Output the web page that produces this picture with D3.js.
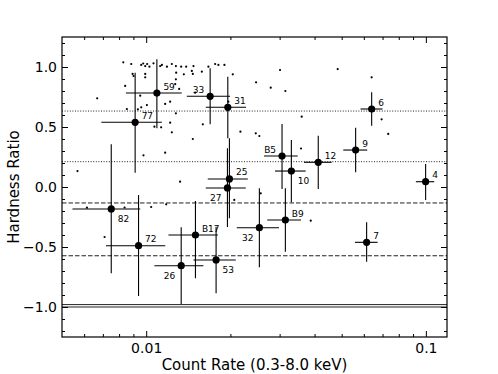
<!DOCTYPE html>
<html>
<head>
<meta charset="utf-8">
<script src="https://cdn.jsdelivr.net/npm/d3@7"></script>
<style>
  body { margin: 0; background: #fff; }
  svg { display: block; font-family: "DejaVu Sans", sans-serif; }
</style>
</head>
<body>
<div id="chart"></div>
<script>
// labelled sources: count rate (with 1-sigma range) and hardness ratio (with range)
var srcNames  = ['59', '77', '33', '31', '25', '27', '82', '72', '26', 'B17', '53', '32', 'B9', '7', '4', '6', '9', '12', 'B5', '10'];
var srcRate   = [0.01092, 0.00913, 0.01693, 0.01958, 0.01984, 0.01952, 0.0075, 0.00939, 0.01334, 0.0150, 0.01778, 0.02539, 0.03145, 0.0614, 0.0998, 0.0640, 0.05609, 0.04123, 0.0306, 0.03304];
var srcRateLo = [0.00846, 0.00691, 0.01397, 0.01633, 0.0166, 0.01633, 0.00545, 0.00718, 0.0107, 0.01201, 0.01476, 0.02108, 0.0271, 0.05576, 0.0921, 0.0584, 0.05066, 0.03666, 0.02638, 0.02888];
var srcRateHi = [0.0134, 0.01138, 0.01995, 0.02276, 0.02308, 0.0227, 0.00952, 0.0117, 0.01602, 0.01804, 0.02091, 0.02985, 0.03578, 0.06723, 0.1071, 0.0700, 0.06172, 0.04604, 0.03481, 0.03718];
var srcHR     = [0.783, 0.539, 0.756, 0.664, 0.067, -0.008, -0.183, -0.489, -0.656, -0.40, -0.608, -0.339, -0.275, -0.461, 0.044, 0.65, 0.308, 0.206, 0.258, 0.133];
var srcHRLo   = [0.49, 0.119, 0.5225, 0.406, -0.261, -0.333, -0.719, -0.908, -0.975, -0.761, -0.886, -0.669, -0.539, -0.6225, -0.108, 0.511, 0.1225, -0.017, -0.017, -0.1275];
var srcHRHi   = [1.064, 0.953, 0.989, 0.919, 0.406, 0.3225, 0.356, -0.067, -0.336, -0.117, -0.331, -0.011, -0.011, -0.294, 0.192, 0.789, 0.494, 0.4275, 0.525, 0.392];

// where each label sits around its point (u/l = up/low, l/r = left/right)
var srcLabelPos = ['ur', 'ur', 'ul', 'ur', 'ur', 'll', 'lr', 'ur', 'll', 'ur', 'lr', 'll', 'ur', 'ur', 'ur', 'ur', 'ur', 'ur', 'ul', 'lr'];

// unlabelled background sources
var bgRate = [0.00568, 0.00668, 0.00828, 0.00884, 0.0096, 0.00976, 0.00992, 0.01008, 0.01027, 0.01062, 0.01122, 0.01138, 0.01186, 0.01235, 0.01277, 0.01334, 0.0139, 0.01476, 0.01669, 0.01764, 0.01812, 0.01904,
  0.00894, 0.00901, 0.00992, 0.00992, 0.00841, 0.0128, 0.01363, 0.01456, 0.01468, 0.01581, 0.0204, 0.01277, 0.0127, 0.01312, 0.01496, 0.00952, 0.01218, 0.01169, 0.01006, 0.0096, 0.00853, 0.00934, 0.01277, 0.01967,
  0.0107, 0.01131, 0.01218, 0.01235, 0.01594, 0.02172, 0.01468, 0.00978, 0.01169, 0.02471, 0.0301, 0.02788, 0.03145, 0.04838, 0.064, 0.03598, 0.02465, 0.02539, 0.03578, 0.06947, 0.07335,
  0.00614, 0.00837, 0.01042, 0.01179, 0.0071, 0.01322, 0.02065, 0.02568, 0.03876];
var bgHR = [0.133, 0.739, 1.039, 1.025, 1.017, 1.029, 1.008, 1.025, 1.0025, 1.031, 1.008, 1.017, 1.0025, 1.025, 1.008, 1.0025, 1.0025, 1.008, 1.0025, 1.025, 1.017, 1.017,
  0.942, 0.925, 0.942, 0.914, 0.842, 0.9525, 0.939, 0.967, 0.942, 0.961, 0.939, 0.8975, 0.858, 0.817, 0.786, 0.761, 0.711, 0.692, 0.683, 0.664, 0.65, 0.6475, 0.614, 0.711,
  0.5025, 0.4975, 0.536, 0.456, 0.5225, 0.461, 0.40, 0.264, 0.286, 0.8725, 0.975, 0.8275, 0.80, 0.983, 0.914, 0.586, 0.4475, 0.425, 0.321, 0.564, 0.442,
  -0.1725, -0.171, -0.1667, -0.144, -0.4167, 0.044, -0.108, -0.0525, -0.281];

// reference levels
var dottedLevels = [0.633, 0.211];
var dashedLevels = [-0.133, -0.573];
var solidLevels = [-0.98, -1.0];

var xMajor = [0.01, 0.1];
var xMinor = [0.006, 0.007, 0.008, 0.009, 0.02, 0.03, 0.04, 0.05, 0.06, 0.07, 0.08, 0.09];
var yMajor = [-1.0, -0.5, 0.0, 0.5, 1.0];
var yMinor = d3.range(-12, 13).map(function(d) { return d / 10; });

var W = 498, H = 374,
    m = { left: 62, right: 51, top: 37, bottom: 37 },
    iw = W - m.left - m.right,
    ih = H - m.top - m.bottom;

var svg = d3.select('#chart').append('svg')
    .attr('width', W)
    .attr('height', H);

var g = svg.append('g').attr('transform', 'translate(' + m.left + ',' + m.top + ')');

var x = d3.scaleLog().domain([0.005, 0.119]).range([0, iw]),
    y = d3.scaleLinear().domain([-1.25, 1.25]).range([ih, 0]);

// horizontal reference lines
function hlines(levels, dash, cls) {
  g.selectAll('line.' + cls).data(levels).enter().append('line')
    .attr('class', cls)
    .attr('x1', 0).attr('x2', iw)
    .attr('y1', function(d) { return y(d); })
    .attr('y2', function(d) { return y(d); })
    .attr('stroke', '#222')
    .attr('stroke-width', 1)
    .attr('stroke-dasharray', dash);
}
hlines(dottedLevels, '1,1.6', 'dotted');
hlines(dashedLevels, '4.5,2', 'dashed');
hlines(solidLevels, null, 'solid');

// background dots
var bg = bgRate.map(function(r, i) { return { r: r, hr: bgHR[i] }; });
g.selectAll('circle.bg').data(bg).enter().append('circle')
  .attr('class', 'bg')
  .attr('cx', function(d) { return x(d.r); })
  .attr('cy', function(d) { return y(d.hr); })
  .attr('r', 1.1)
  .attr('fill', '#000');

// labelled sources with error bars
var src = srcNames.map(function(n, i) {
  return { name: n, r: srcRate[i], rLo: srcRateLo[i], rHi: srcRateHi[i],
           hr: srcHR[i], hrLo: srcHRLo[i], hrHi: srcHRHi[i], pos: srcLabelPos[i] };
});

var s = g.selectAll('g.src').data(src).enter().append('g').attr('class', 'src');

s.append('line')
  .attr('x1', function(d) { return x(d.rLo); })
  .attr('x2', function(d) { return x(d.rHi); })
  .attr('y1', function(d) { return y(d.hr); })
  .attr('y2', function(d) { return y(d.hr); })
  .attr('stroke', '#000').attr('stroke-width', 1.1);

s.append('line')
  .attr('x1', function(d) { return x(d.r); })
  .attr('x2', function(d) { return x(d.r); })
  .attr('y1', function(d) { return y(d.hrLo); })
  .attr('y2', function(d) { return y(d.hrHi); })
  .attr('stroke', '#000').attr('stroke-width', 1.1);

s.append('circle')
  .attr('cx', function(d) { return x(d.r); })
  .attr('cy', function(d) { return y(d.hr); })
  .attr('r', 3.6)
  .attr('fill', '#000');

s.append('text')
  .attr('x', function(d) { return x(d.r) + (d.pos[1] === 'r' ? 6.5 : -6); })
  .attr('y', function(d) { return y(d.hr) + (d.pos[0] === 'u' ? -3.5 : 13); })
  .attr('text-anchor', function(d) { return d.pos[1] === 'r' ? 'start' : 'end'; })
  .attr('font-size', 9)
  .attr('fill', '#000')
  .text(function(d) { return d.name; });

// axes, ticks pointing inward on all four sides
function styleAxis(sel) {
  sel.select('.domain').remove();
  sel.selectAll('.tick line').attr('stroke', '#000').attr('stroke-width', 1);
  sel.selectAll('.tick text').attr('font-size', 14).attr('fill', '#000')
    .attr('font-family', '"DejaVu Sans", sans-serif');
}

var fmtY = d3.format('.1f');

g.append('g').attr('transform', 'translate(0,' + ih + ')')
  .call(d3.axisBottom(x).tickValues(xMajor).tickSize(-6).tickPadding(6).tickFormat(function(d) { return String(d); }))
  .call(styleAxis);
g.append('g').attr('transform', 'translate(0,' + ih + ')')
  .call(d3.axisBottom(x).tickValues(xMinor).tickSize(-3).tickFormat(''))
  .call(styleAxis);
g.append('g')
  .call(d3.axisTop(x).tickValues(xMajor).tickSize(-6).tickFormat(''))
  .call(styleAxis);
g.append('g')
  .call(d3.axisTop(x).tickValues(xMinor).tickSize(-3).tickFormat(''))
  .call(styleAxis);

g.append('g')
  .call(d3.axisLeft(y).tickValues(yMajor).tickSize(-6).tickPadding(5).tickFormat(fmtY))
  .call(styleAxis);
g.append('g')
  .call(d3.axisLeft(y).tickValues(yMinor).tickSize(-3).tickFormat(''))
  .call(styleAxis);
g.append('g').attr('transform', 'translate(' + iw + ',0)')
  .call(d3.axisRight(y).tickValues(yMajor).tickSize(-6).tickFormat(''))
  .call(styleAxis);
g.append('g').attr('transform', 'translate(' + iw + ',0)')
  .call(d3.axisRight(y).tickValues(yMinor).tickSize(-3).tickFormat(''))
  .call(styleAxis);

// frame
g.append('rect')
  .attr('width', iw).attr('height', ih)
  .attr('fill', 'none').attr('stroke', '#000').attr('stroke-width', 1.2);

// axis titles
svg.append('text')
  .attr('x', m.left + iw / 2).attr('y', 370)
  .attr('text-anchor', 'middle')
  .attr('font-size', 15)
  .text('Count Rate (0.3-8.0 keV)');

svg.append('text')
  .attr('transform', 'translate(19,' + (m.top + ih / 2) + ') rotate(-90)')
  .attr('text-anchor', 'middle')
  .attr('font-size', 15)
  .text('Hardness Ratio');
</script>
</body>
</html>
